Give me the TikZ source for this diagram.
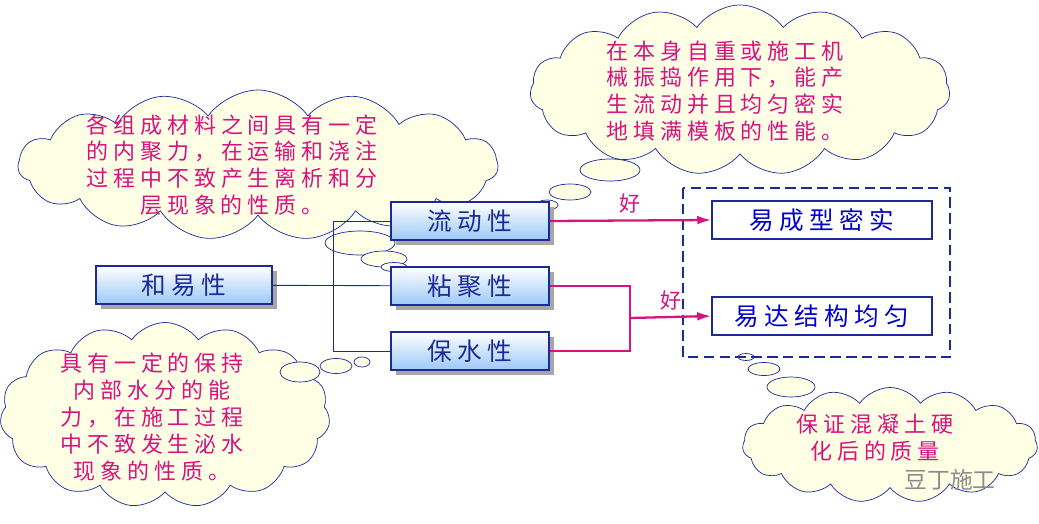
\documentclass[tikz,border=0pt]{standalone}
\usepackage{fontspec}
\setmainfont{Noto Sans CJK SC}
\usetikzlibrary{shapes.symbols,shapes.geometric,arrows.meta,shadows}
\definecolor{cloudfill}{HTML}{FFFFE6}
\definecolor{boxblue}{HTML}{9CC8F8}
\definecolor{linkred}{HTML}{D8127E}
\definecolor{edgeblue}{HTML}{1A2A9A}
\begin{document}
\begin{tikzpicture}[x=0.02cm,y=-0.02cm,
  prop box/.style={draw=edgeblue,thick,top color=white,bottom color=boxblue,minimum width=158*0.02cm,minimum height=38*0.02cm,inner sep=0pt,font=\fontsize{14}{16}\selectfont,text=edgeblue,drop shadow={shadow xshift=3pt,shadow yshift=-3pt,fill=black!35,opacity=1}},
  res box/.style={draw=edgeblue,thick,fill=white,minimum width=220*0.02cm,minimum height=38*0.02cm,inner sep=0pt,font=\fontsize{14}{16}\selectfont,text=blue!80!black},
  think/.style={cloud,cloud puffs=15,cloud puff arc=110,aspect=2.5,draw=edgeblue,fill=cloudfill,inner sep=0pt},
  bubble/.style={ellipse,draw=edgeblue,fill=cloudfill,inner sep=0pt},
  note/.style={text=linkred,font=\fontsize{12.5}{15.3}\selectfont,align=center},
  link/.style={linkred,line width=1.3pt},
  tie/.style={edgeblue,line width=0.5pt}]
\useasboundingbox (0,0) rectangle (1039,524);

% clouds
\node[think,minimum width=480*0.02cm,minimum height=150*0.02cm] (c1) at (258,165) {};
\node[think,minimum width=420*0.02cm,minimum height=170*0.02cm] (c2) at (740,90) {};
\node[think,minimum width=330*0.02cm,minimum height=185*0.02cm] (c3) at (165,415) {};
\node[think,minimum width=295*0.02cm,minimum height=115*0.02cm] (c4) at (890,445) {};
\node[bubble,minimum width=70*0.02cm,minimum height=24*0.02cm] (b1a) at (360,243) {};
\node[bubble,minimum width=46*0.02cm,minimum height=16*0.02cm] (b1b) at (384,259) {};
\node[bubble,minimum width=26*0.02cm,minimum height=9*0.02cm] (b1c) at (394,267) {};
\node[bubble,minimum width=60*0.02cm,minimum height=22*0.02cm] (b2a) at (610,170) {};
\node[bubble,minimum width=42*0.02cm,minimum height=16*0.02cm] (b2b) at (570,192) {};
\node[bubble,minimum width=22*0.02cm,minimum height=10*0.02cm] (b2c) at (547,205) {};
\node[bubble,minimum width=40*0.02cm,minimum height=20*0.02cm] (b3a) at (300,372) {};
\node[bubble,minimum width=32*0.02cm,minimum height=15*0.02cm] (b3b) at (336,366) {};
\node[bubble,minimum width=16*0.02cm,minimum height=10*0.02cm] (b3c) at (362,362) {};
\node[bubble,minimum width=48*0.02cm,minimum height=20*0.02cm] (b4a) at (791,387) {};
\node[bubble,minimum width=32*0.02cm,minimum height=13*0.02cm] (b4b) at (764,369) {};
\node[bubble,minimum width=16*0.02cm,minimum height=7*0.02cm] (b4c) at (746,357) {};

\node[note] at (232,165) {各 组 成 材 料 之 间 具 有 一 定\\的 内 聚 力 ， 在 运 输 和 浇 注\\过 程 中 不 致 产 生 离 析 和 分\\层 现 象 的 性 质 。};
\node[note,align=left] at (725,91) {在 本 身 自 重 或 施 工 机\\械 振 捣 作 用 下 ， 能 产\\生 流 动 并 且 均 匀 密 实\\地 填 满 模 板 的 性 能 。};
\node[note] at (152,417) {具 有 一 定 的 保 持\\内 部 水 分 的 能\\力 ， 在 施 工 过 程\\中 不 致 发 生 泌 水\\现 象 的 性 质 。};
\node[note] at (875,438) {保 证 混 凝 土 硬\\化 后 的 质 量};
\node[text=black!45,font=\fontsize{13}{14}\selectfont] (mark) at (950,480) {豆丁施工};

% boxes
\node[prop box,minimum width=176*0.02cm] (hy) at (184,285) {和 易 性};
\node[prop box] (ld) at (470,221) {流 动 性};
\node[prop box] (nj) at (470,286) {粘 聚 性};
\node[prop box] (bs) at (470,351) {保 水 性};
\node[res box] (cx) at (822,220) {易 成 型 密 实};
\node[res box] (jy) at (822,316) {易 达 结 构 均 匀};
\draw[edgeblue,line width=1.2pt,dash pattern=on 6pt off 3pt] (683,188) rectangle (950,357);

% connectors
\coordinate (lt) at (333,221);
\coordinate (lb) at (333,351);
\coordinate (rt) at (630,286);
\coordinate (rb) at (630,351);
\coordinate (rm) at (630,318);
\draw[tie] (hy) -- (nj);
\draw[tie] (ld.west) -- (lt) -- (lb) -- (bs.west);
\draw[link,-{Latex[length=8pt,width=5pt]}] (ld.east) -- node[above,text=linkred,font=\fontsize{12}{13}\selectfont]{好} (cx.west);
\draw[link] (nj.east) -- (rt) -- (rb) -- (bs.east);
\draw[link,-{Latex[length=8pt,width=5pt]}] (rm) -- node[above,text=linkred,font=\fontsize{12}{13}\selectfont]{好} (jy.west);
\end{tikzpicture}
\end{document}
